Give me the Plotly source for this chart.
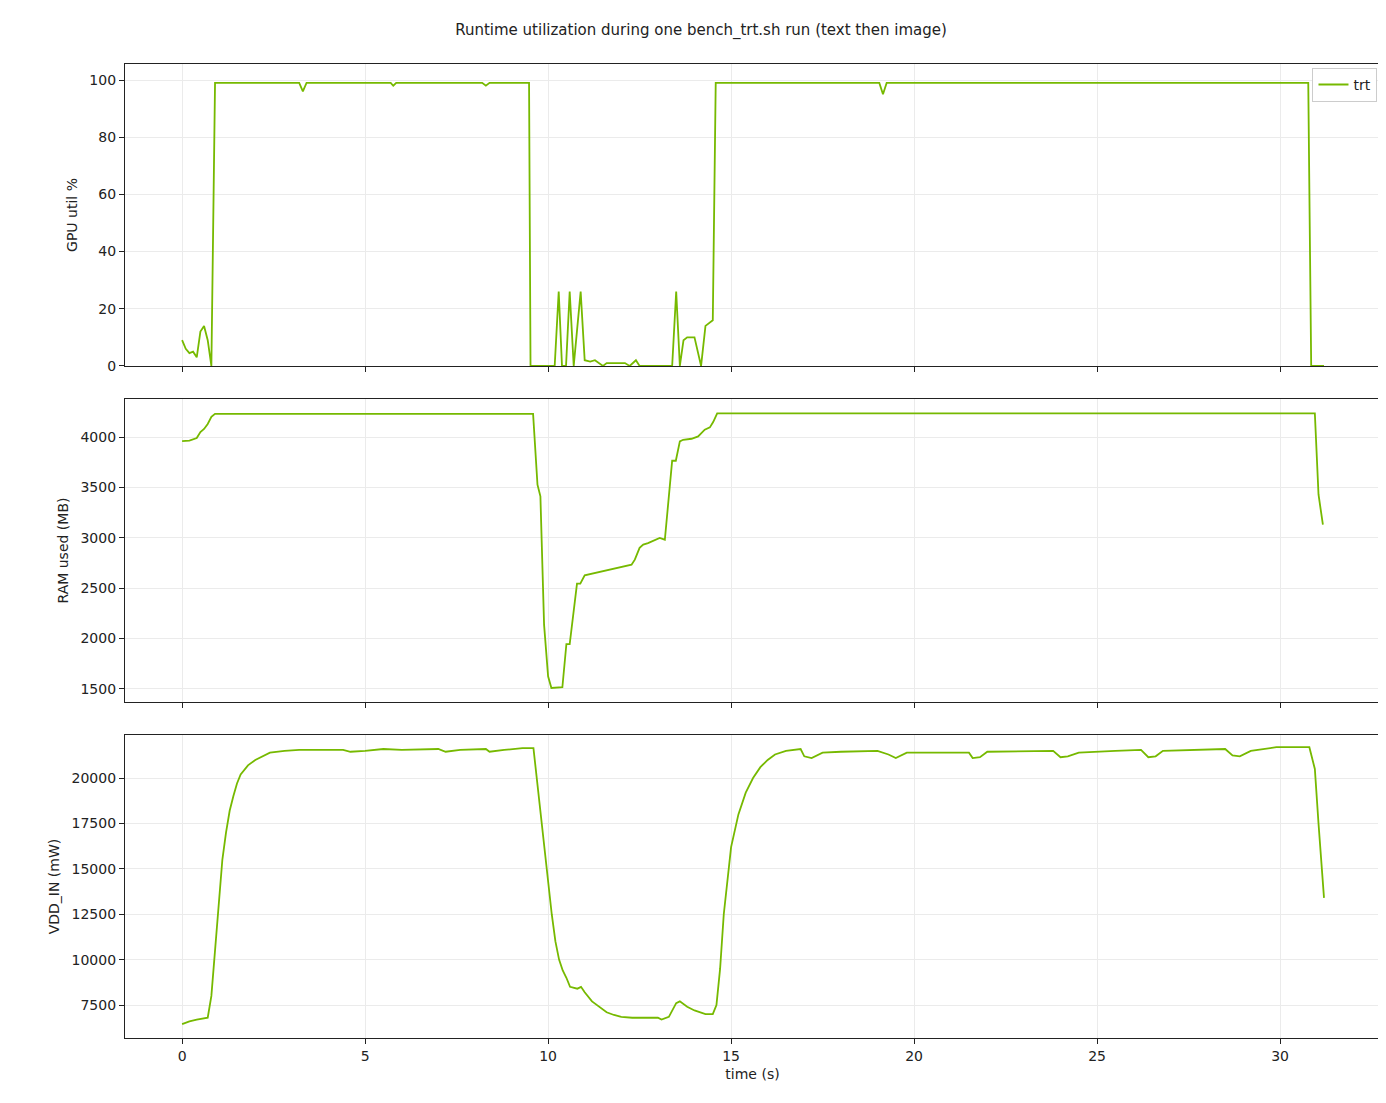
import plotly.graph_objects as go
from plotly.subplots import make_subplots

# GPU utilisation (%)
gpu_t = [0, 0.1, 0.2, 0.3, 0.4, 0.5, 0.6, 0.7, 0.8, 0.9, 3.2, 3.3, 3.4, 5.7, 5.77, 5.85,
         8.2, 8.3, 8.4, 9.48, 9.52, 10.18, 10.29, 10.38, 10.49, 10.59, 10.7, 10.89, 11.0,
         11.15, 11.28, 11.5, 11.6, 12.1, 12.23, 12.4, 12.5, 13.39, 13.5, 13.6, 13.7, 13.8,
         14.0, 14.18, 14.3, 14.5, 14.58, 19.05, 19.15, 19.25, 30.77, 30.85, 31.2]
gpu_v = [9, 6, 4.5, 5, 3, 12, 14, 9, 0, 99, 99, 96, 99, 99, 98, 99,
         99, 98, 99, 99, 0, 0, 26, 0, 0, 26, 0, 26, 2,
         1.5, 2, 0, 1, 1, 0, 2, 0, 0, 26, 0, 9, 10,
         10, 0, 14, 16, 99, 99, 95, 99, 99, 0, 0]

# RAM used (MB)
ram_t = [0, 0.2, 0.4, 0.5, 0.6, 0.7, 0.8, 0.9, 9.59, 9.71, 9.79, 9.89, 10.0, 10.09, 10.39,
         10.5, 10.59, 10.79, 10.88, 11.0, 12.28, 12.37, 12.5, 12.6, 12.73, 12.92, 13.05,
         13.19, 13.39, 13.49, 13.6, 13.69, 13.92, 14.1, 14.28, 14.42, 14.51, 14.62, 30.95,
         31.05, 31.17]
ram_v = [3960, 3965, 3990, 4050, 4080, 4130, 4200, 4230, 4230, 3527, 3412, 2138, 1626, 1510,
         1517, 1946, 1946, 2545, 2545, 2628, 2733, 2783, 2900, 2932, 2948, 2981, 2998,
         2981, 3765, 3765, 3957, 3973, 3983, 4006, 4073, 4096, 4149, 4235, 4235,
         3430, 3130]

# VDD_IN power (mW)
pwr_t = [0, 0.2, 0.4, 0.7, 0.8, 0.9, 1.0, 1.1, 1.2, 1.3, 1.4, 1.5, 1.6, 1.8, 2.0, 2.2, 2.4,
         2.8, 3.2, 4.4, 4.6, 5.0, 5.5, 6.0, 7.0, 7.2, 7.6, 8.3, 8.4, 8.8, 9.3, 9.6, 9.8, 9.9,
         10.0, 10.1, 10.2, 10.3, 10.4, 10.5, 10.6, 10.8, 10.9, 11.0, 11.2, 11.4, 11.6, 11.8,
         12.0, 12.3, 13.0, 13.1, 13.3, 13.5, 13.6, 13.8, 14.0, 14.3, 14.5, 14.6, 14.7, 14.8,
         14.9, 15.0, 15.2, 15.4, 15.6, 15.8, 16.0, 16.2, 16.5, 16.9, 17.0, 17.2, 17.5, 18.0,
         19.0, 19.3, 19.5, 19.8, 21.5, 21.6, 21.8, 22.0, 23.8, 24.0, 24.2, 24.5, 25.5, 26.2,
         26.4, 26.6, 26.8, 28.5, 28.7, 28.9, 29.2, 29.9, 30.8, 30.95, 31.05, 31.15, 31.2]
pwr_v = [6450, 6600, 6700, 6800, 8000, 10500, 13500, 15500, 17000, 18200, 19000, 19700, 20200,
         20700, 21000, 21200, 21400, 21500, 21550, 21550, 21450, 21500, 21600, 21550, 21600,
         21450, 21550, 21600, 21450, 21550, 21650, 21650, 18000, 16000, 14000, 12500, 11000,
         10000, 9400, 9000, 8500, 8400, 8500, 8200, 7700, 7400, 7100, 6950, 6850, 6800, 6800,
         6700, 6850, 7600, 7700, 7400, 7200, 7000, 7000, 7500, 9500, 12500, 14500, 16200,
         18000, 19200, 20000, 20600, 21000, 21300, 21500, 21600, 21200, 21100, 21400, 21450,
         21500, 21300, 21100, 21400, 21400, 21100, 21150, 21450, 21500, 21150, 21200, 21400,
         21500, 21550, 21150, 21200, 21500, 21600, 21250, 21200, 21500, 21700, 21700, 20500,
         17500, 15000, 13400]

green = '#76b900'
fig = make_subplots(rows=3, cols=1, shared_xaxes=True)
fig.add_trace(go.Scatter(x=gpu_t, y=gpu_v, mode='lines', name='trt',
                         line=dict(color=green, width=1.8)), row=1, col=1)
fig.add_trace(go.Scatter(x=ram_t, y=ram_v, mode='lines', showlegend=False,
                         line=dict(color=green, width=1.8)), row=2, col=1)
fig.add_trace(go.Scatter(x=pwr_t, y=pwr_v, mode='lines', showlegend=False,
                         line=dict(color=green, width=1.8)), row=3, col=1)

ax = dict(showline=True, mirror=True, linecolor='#222', linewidth=1.3, ticks='outside',
          tickcolor='#222', ticklen=5, showgrid=True, gridcolor='#ebebeb', zeroline=False,
          automargin=False, tickfont=dict(size=14, color='#222'),
          title_font=dict(size=14, color='#222'))
for i, dom in zip([1, 2, 3], [[0.690, 1.0], [0.345, 0.656], [0.0, 0.311]]):
    fig.update_xaxes(ax, range=[-1.56, 32.73], tickvals=[0, 5, 10, 15, 20, 25, 30],
                     showticklabels=(i == 3), row=i, col=1)
    fig.update_yaxes(ax, domain=dom, title_standoff=8, row=i, col=1)

fig.update_yaxes(range=[0, 105.6], tickvals=[0, 20, 40, 60, 80, 100],
                 title_text='GPU util %', row=1, col=1)
fig.update_yaxes(range=[1371, 4377], tickvals=[1500, 2000, 2500, 3000, 3500, 4000],
                 title_text='RAM used (MB)', row=2, col=1)
fig.update_yaxes(range=[5683, 22368], tickvals=[7500, 10000, 12500, 15000, 17500, 20000],
                 tickformat='d', title_text='VDD_IN (mW)', row=3, col=1)
fig.update_xaxes(title_text='time (s)', title_standoff=6, row=3, col=1)

fig.update_layout(
    width=1386, height=1103,
    margin=dict(l=117, r=14, t=56, b=73),
    paper_bgcolor='white', plot_bgcolor='white',
    font=dict(family='DejaVu Sans', size=14, color='#222'),
    title=dict(text='Runtime utilization during one bench_trt.sh run (text then image)',
               x=0.5, xanchor='center', y=0.98, yanchor='middle', font=dict(size=15)),
    legend=dict(x=0.998, y=0.996, xanchor='right', yanchor='top', bgcolor='white',
                bordercolor='#ccc', borderwidth=1, font=dict(size=14)),
)
fig.write_html('out.html')
